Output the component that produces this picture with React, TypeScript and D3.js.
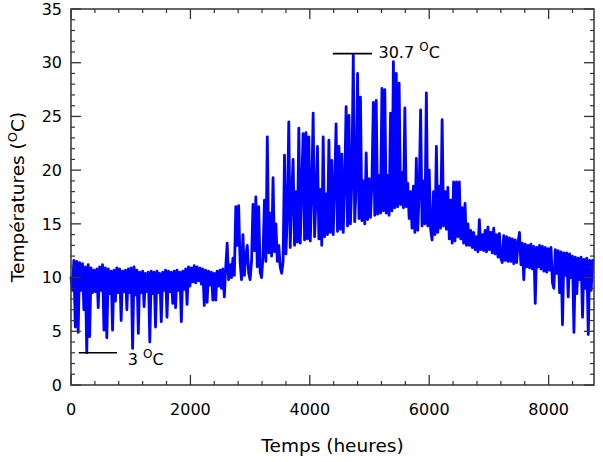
import React from "react";
import * as d3 from "d3";

const STEP_HOURS = 24;
const temps: number[] = [
  10.0, 8.8, 11.6, 5.4, 11.5, 4.9, 11.4, 8.8, 11.3, 7.0,
  11.0, 3.0, 11.2, 4.5, 10.9, 8.6, 10.7, 8.7, 10.8, 7.2,
  11.0, 8.8, 11.2, 5.1, 10.9, 4.4, 10.8, 8.5, 10.6, 5.1,
  10.7, 7.8, 10.9, 8.6, 10.8, 6.0, 10.6, 8.7, 10.7, 7.0,
  10.8, 8.6, 10.9, 3.4, 11.0, 8.4, 10.7, 4.8, 10.5, 8.6,
  10.6, 7.3, 10.4, 8.7, 10.5, 4.0, 10.6, 8.5, 10.5, 5.4,
  10.6, 8.6, 10.4, 5.9, 10.5, 8.8, 10.7, 6.3, 10.6, 8.7,
  10.5, 7.6, 10.6, 7.2, 10.7, 8.8, 10.5, 5.9, 10.6, 8.9,
  10.8, 7.5, 11.0, 9.2, 10.9, 9.6, 11.1, 9.5, 11.0, 9.7,
  10.9, 9.4, 10.8, 7.4, 10.7, 7.7, 10.6, 9.3, 10.5, 7.9,
  10.4, 7.9, 10.6, 9.2, 10.7, 9.0, 10.8, 8.2, 11.0, 13.2,
  9.8, 11.2, 10.0, 11.8, 10.2, 16.6, 13.0, 16.7, 11.5, 9.8,
  14.0, 10.2, 12.0, 13.0, 10.4, 9.8, 11.5, 16.8, 12.5, 17.5,
  11.0, 16.6, 10.5, 10.0, 12.0, 17.2, 11.5, 23.1, 12.3, 16.0,
  12.0, 19.3, 12.4, 15.0, 11.5, 13.0, 11.0, 10.4, 11.5, 21.4,
  12.2, 16.0, 24.5, 12.8, 17.5, 21.0, 13.0, 18.0, 13.3, 23.9,
  13.2, 18.5, 23.4, 13.5, 23.5, 13.6, 23.1, 13.4, 18.0, 25.3,
  13.8, 17.5, 22.2, 13.6, 18.2, 13.0, 23.1, 13.8, 17.8, 14.0,
  22.8, 14.2, 20.9, 14.0, 18.5, 24.3, 14.3, 22.2, 14.5, 21.5,
  14.2, 18.8, 25.9, 14.8, 25.1, 15.0, 19.0, 30.7, 15.2, 18.5,
  29.0, 15.5, 26.8, 15.3, 19.0, 15.0, 21.6, 15.4, 19.2, 15.6,
  18.8, 26.3, 15.8, 26.5, 15.9, 19.5, 16.0, 27.6, 16.2, 27.5,
  16.0, 19.5, 15.8, 25.3, 16.2, 30.1, 16.5, 29.0, 16.6, 28.1,
  16.8, 19.8, 16.5, 25.8, 16.6, 18.8, 15.5, 18.0, 14.6, 18.5,
  14.2, 21.1, 14.4, 18.0, 25.6, 14.8, 19.0, 15.0, 27.2, 14.8,
  20.0, 14.5, 13.5, 18.0, 14.0, 22.2, 14.2, 18.5, 14.6, 24.7,
  14.8, 18.0, 14.5, 18.4, 13.6, 17.2, 13.2, 18.9, 13.4, 18.9,
  13.8, 18.9, 13.6, 16.5, 13.2, 16.9, 13.0, 15.0, 13.0, 14.4,
  12.8, 14.2, 12.6, 13.8, 12.4, 15.4, 12.6, 14.0, 12.5, 14.4,
  12.4, 14.7, 12.6, 14.2, 12.3, 14.6, 12.2, 14.0, 11.9, 14.1,
  11.8, 11.4, 13.9, 11.6, 13.8, 11.5, 13.7, 11.5, 13.6, 11.3,
  13.5, 11.4, 13.3, 14.2, 11.2, 13.2, 9.8, 13.1, 11.0, 13.0,
  10.9, 13.1, 10.8, 12.9, 7.6, 12.8, 11.0, 13.0, 10.8, 12.9,
  10.6, 12.8, 10.5, 12.7, 10.7, 12.8, 9.5, 9.0, 12.6, 10.4,
  12.5, 8.6, 12.4, 5.6, 12.3, 10.2, 12.3, 8.2, 12.2, 10.0,
  12.0, 4.9, 11.9, 8.5, 11.8, 9.8, 11.9, 6.3, 11.7, 9.0,
  11.8, 4.7, 11.6, 8.8, 11.6,
];

const xTicks = [0, 2000, 4000, 6000, 8000];
const yTicks = [0, 5, 10, 15, 20, 25, 30, 35];
const X_MINOR_STEP = 400;
const Y_MINOR_STEP = 1;

// Annotations
const maxNote = { h0: 4385, h1: 5040, v: 30.85, lh: 5150, text: "30.7" };
const minNote = { h0: 130, h1: 770, v: 3.0, lh: 950, text: "3" };

const W = 603;
const H = 462;
const M = { left: 71, right: 9, top: 9, bottom: 77 };

export default function App() {
  const x = d3.scaleLinear().domain([0, 8760]).range([M.left, W - M.right]);
  const y = d3.scaleLinear().domain([0, 35]).range([H - M.bottom, M.top]);
  const x0 = M.left, x1 = W - M.right, y0 = H - M.bottom, y1 = M.top;

  const line = d3
    .line<number>()
    .x((_, i) => x(i * STEP_HOURS))
    .y((d) => y(d));

  const xMinor = d3.range(0, 8760, X_MINOR_STEP).filter((v) => v % 2000 !== 0);
  const yMinor = d3.range(0, 35, Y_MINOR_STEP).filter((v) => v % 5 !== 0);

  const font = "'DejaVu Sans', sans-serif";
  const axisColor = "#333";
  const MAJ = 10;
  const MIN = 4;

  return (
    <svg
      width={W}
      height={H}
      style={{ position: "absolute", left: 0, top: 0, background: "#fff" }}
      fontFamily={font}
    >
      <rect x={0} y={0} width={W} height={H} fill="#fff" />
      <path
        d={line(temps) || ""}
        fill="none"
        stroke="#0000ff"
        strokeWidth={2.8}
        strokeLinejoin="round"
        strokeLinecap="round"
      />

      <rect x={x0} y={y1} width={x1 - x0} height={y0 - y1} fill="none" stroke={axisColor} strokeWidth={1.5} />

      {xTicks.map((t) => (
        <g key={"xt" + t}>
          <line x1={x(t)} x2={x(t)} y1={y0} y2={y0 - MAJ} stroke={axisColor} strokeWidth={1.3} />
          <line x1={x(t)} x2={x(t)} y1={y1} y2={y1 + MAJ} stroke={axisColor} strokeWidth={1.3} />
          <text x={x(t)} y={y0 + 30} textAnchor="middle" fontSize={16} fill="#000">
            {t}
          </text>
        </g>
      ))}
      {xMinor.map((t) => (
        <g key={"xm" + t}>
          <line x1={x(t)} x2={x(t)} y1={y0} y2={y0 - MIN} stroke={axisColor} strokeWidth={1.2} />
          <line x1={x(t)} x2={x(t)} y1={y1} y2={y1 + MIN} stroke={axisColor} strokeWidth={1.2} />
        </g>
      ))}

      {yTicks.map((t) => (
        <g key={"yt" + t}>
          <line x1={x0} x2={x0 + MAJ} y1={y(t)} y2={y(t)} stroke={axisColor} strokeWidth={1.3} />
          <line x1={x1} x2={x1 - MAJ} y1={y(t)} y2={y(t)} stroke={axisColor} strokeWidth={1.3} />
          <text x={x0 - 9} y={y(t)} dy="0.36em" textAnchor="end" fontSize={16} fill="#000">
            {t}
          </text>
        </g>
      ))}
      {yMinor.map((t) => (
        <g key={"ym" + t}>
          <line x1={x0} x2={x0 + MIN} y1={y(t)} y2={y(t)} stroke={axisColor} strokeWidth={1.2} />
          <line x1={x1} x2={x1 - MIN} y1={y(t)} y2={y(t)} stroke={axisColor} strokeWidth={1.2} />
        </g>
      ))}

      {[maxNote, minNote].map((n, k) => (
        <g key={"n" + k}>
          <line x1={x(n.h0)} x2={x(n.h1)} y1={y(n.v)} y2={y(n.v)} stroke="#000" strokeWidth={1.6} />
          <text x={x(n.lh)} y={y(n.v)} dy={k === 0 ? "0.3em" : "0.75em"} fontSize={16} fill="#000">
            {n.text + " "}
            <tspan fontSize={12} dy="-0.6em">O</tspan>
            <tspan dy="0.45em">C</tspan>
          </text>
        </g>
      ))}

      <text x={(x0 + x1) / 2} y={452} textAnchor="middle" fontSize={18.5} fill="#000">
        Temps (heures)
      </text>
      <text
        transform={`translate(24, ${(y0 + y1) / 2}) rotate(-90)`}
        textAnchor="middle"
        fontSize={18.5}
        fill="#000"
      >
        Températures (<tspan fontSize={13} dy="-0.55em">O</tspan>
        <tspan dy="0.4em">C)</tspan>
      </text>
    </svg>
  );
}
